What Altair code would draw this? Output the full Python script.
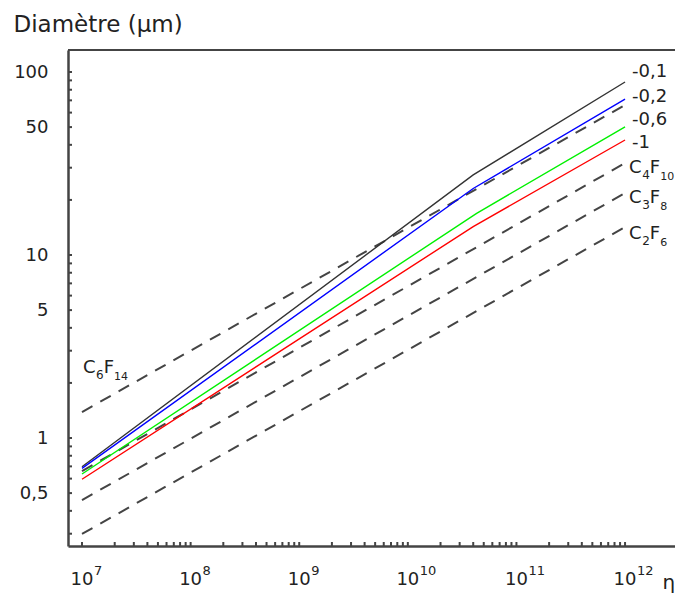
import json
import altair as alt
import pandas as pd

# ---- data ----
# solid model curves (eta, diameter in µm)
eta_m01 = [1e7, 4.0e10, 1e12]
d_m01 = [0.697, 27.4, 88.2]
eta_m02 = [1e7, 4.0e10, 1e12]
d_m02 = [0.683, 23.1, 71.1]
eta_m06 = [1e7, 4.3e10, 1e12]
d_m06 = [0.636, 16.9, 50.2]
eta_m1 = [1e7, 4.0e10, 1e12]
d_m1 = [0.595, 14.3, 42.5]
solid_names = ["-0,1", "-0,2", "-0,6", "-1"]
solid_colors = ["#333333", "#0000ff", "#00f000", "#ff0000"]

# dashed gas lines
eta_gas = [1e7, 1e12]
d_c6f14 = [1.387, 66.0]
d_c4f10 = [0.660, 31.8]
d_c3f8 = [0.458, 21.8]
d_c2f6 = [0.299, 14.2]
gas_names = ["C6F14", "C4F10", "C3F8", "C2F6"]
gas_sub1 = ["6", "4", "3", "2"]
gas_sub2 = ["14", "10", "8", "6"]
gas_label_eta = [1.02e7, 1.09e12, 1.09e12, 1.09e12]
gas_label_d = [2.265, 27.9, 19.2, 12.3]

# curve labels (right side)
curve_label_eta = [1.16e12] * 4
curve_label_d = [94.3, 68.8, 51.3, 38.3]

x_tick_values = [1e7, 1e8, 1e9, 1e10, 1e11, 1e12]
x_tick_exp = ["7", "8", "9", "10", "11", "12"]
y_tick_values = [0.5, 1, 5, 10, 50, 100]
y_tick_labels = ["0,5", "1", "5", "10", "50", "100"]

x_minor = [m * 10 ** e for e in range(7, 12) for m in range(1, 10)] + [1e12]
y_minor = [m * 10 ** e for e in range(-1, 2) for m in range(3 if e == -1 else 1, 10)] + [100]

# ---- chart ----
W, H = 607, 496
FONT = "DejaVu Sans"
AX = "#444444"
TXT = "#222222"
FS = 18      # main label size
FSUB = 12    # subscript size

xscale = alt.Scale(type="log", domain=[10 ** 6.871, 10 ** 12.460], nice=False)
yscale = alt.Scale(type="log", domain=[0.257, 131.9], nice=False)

def chain(vals, labs):
    expr = "''"
    for v, l in reversed(list(zip(vals, labs))):
        expr = f"(abs(datum.value - {v!r}) < {v!r}*1e-6 ? {json.dumps(l, ensure_ascii=False)} : {expr})"
    return expr

xaxis = alt.Axis(values=x_tick_values, labels=False,
                 ticks=False, grid=False, domainColor=AX, domainWidth=2.5,
                 title="η", titleFont=FONT, titleFontSize=20, titleFontWeight="normal",
                 titleColor=TXT, titleAlign="left", titleBaseline="alphabetic",
                 titleX=594, titleY=42, titleAngle=0)
yaxis = alt.Axis(values=y_tick_values, labelExpr=chain(y_tick_values, y_tick_labels),
                 ticks=False, grid=False, domainColor=AX, domainWidth=2.5,
                 labelFont=FONT, labelFontSize=FS, labelColor=TXT, labelPadding=20,
                 title="Diamètre (µm)", titleFont=FONT, titleFontSize=23,
                 titleFontWeight="normal", titleColor=TXT, titleAngle=0,
                 titleAlign="left", titleBaseline="alphabetic", titleX=-55, titleY=-19)

def X(f):
    return alt.X(f"{f}:Q", scale=xscale, axis=xaxis)

def Y(f):
    return alt.Y(f"{f}:Q", scale=yscale, axis=yaxis)

rows = []
for name, es, ds in zip(solid_names, [eta_m01, eta_m02, eta_m06, eta_m1], [d_m01, d_m02, d_m06, d_m1]):
    for e, d in zip(es, ds):
        rows.append({"series": name, "eta": e, "d": d})
solid_df = pd.DataFrame(rows)

rows = []
for name, ds in zip(gas_names, [d_c6f14, d_c4f10, d_c3f8, d_c2f6]):
    for e, d in zip(eta_gas, ds):
        rows.append({"gas": name, "eta": e, "d": d})
gas_df = pd.DataFrame(rows)

curve_lab_df = pd.DataFrame({"text": solid_names, "eta": curve_label_eta, "d": curve_label_d})
gas_lab_df = pd.DataFrame({"gas": gas_names, "c": ["C"] * 4, "f": ["F"] * 4,
                           "s1": gas_sub1, "s2": gas_sub2,
                           "eta": gas_label_eta, "d": gas_label_d})
xlab_df = pd.DataFrame({"v": x_tick_values, "base": ["10"] * 6, "exp": x_tick_exp})

solid = alt.Chart(solid_df).mark_line(strokeWidth=1.4).encode(
    x=X("eta"), y=Y("d"),
    color=alt.Color("series:N", scale=alt.Scale(domain=solid_names, range=solid_colors), legend=None),
    order="eta:Q",
)
dashed = alt.Chart(gas_df).mark_line(strokeWidth=2, strokeDash=[12, 9], color=AX).encode(
    x=X("eta"), y=Y("d"), detail="gas:N",
)
curve_labels = alt.Chart(curve_lab_df).mark_text(
    align="left", baseline="alphabetic", font=FONT, fontSize=FS, color=TXT).encode(
    x=X("eta"), y=Y("d"), text="text:N")

# chemical formulas: C, subscript, F, subscript
w_c = 0.698 * FS
w_f = 0.575 * FS
w_sub = 0.636 * FSUB
gas_base = alt.Chart(gas_lab_df)
g_c = gas_base.mark_text(align="left", baseline="alphabetic", font=FONT, fontSize=FS,
                         color=TXT).encode(x=X("eta"), y=Y("d"), text="c:N")
g_s1 = gas_base.mark_text(align="left", baseline="alphabetic", font=FONT, fontSize=FSUB,
                          color=TXT, dx=w_c + 0.5, dy=6).encode(x=X("eta"), y=Y("d"), text="s1:N")
g_f = gas_base.mark_text(align="left", baseline="alphabetic", font=FONT, fontSize=FS,
                         color=TXT, dx=w_c + w_sub + 0.5).encode(x=X("eta"), y=Y("d"), text="f:N")
g_s2 = gas_base.mark_text(align="left", baseline="alphabetic", font=FONT, fontSize=11,
                          color=TXT, dx=w_c + w_sub + w_f + 0.5, dy=7).encode(x=X("eta"), y=Y("d"), text="s2:N")

# x tick labels 10^n
xl_base = alt.Chart(xlab_df).mark_text(align="center", baseline="alphabetic", font=FONT,
                                       fontSize=FS, color=TXT).encode(
    x=X("v"), y=alt.value(H + 39), text="base:N")
xl_exp = alt.Chart(xlab_df).mark_text(align="left", baseline="alphabetic", font=FONT,
                                      fontSize=13, color=TXT, dx=0.636 * FS + 0.5).encode(
    x=X("v"), y=alt.value(H + 29), text="exp:N")

xt = alt.Chart(pd.DataFrame({"v": x_minor})).mark_rule(color=AX, strokeWidth=2).encode(
    x=X("v"), y=alt.value(H - 4), y2=alt.value(H))
yt = alt.Chart(pd.DataFrame({"v": y_minor})).mark_rule(color=AX, strokeWidth=2).encode(
    y=Y("v"), x=alt.value(0), x2=alt.value(4))
top = alt.Chart(pd.DataFrame({"a": [0]})).mark_rule(color=AX, strokeWidth=2).encode(
    y=alt.value(0), x=alt.value(0), x2=alt.value(W))

chart = alt.layer(dashed, solid, curve_labels, g_c, g_s1, g_f, g_s2,
                  xl_base, xl_exp, xt, yt, top).properties(
    width=W, height=H,
    autosize=alt.AutoSizeParams(type="none"),
    padding={"left": 60, "top": 42, "right": 0, "bottom": 47},
).configure_view(stroke=None)

chart.save("out.html", embed_options={"renderer": "svg", "actions": False})
